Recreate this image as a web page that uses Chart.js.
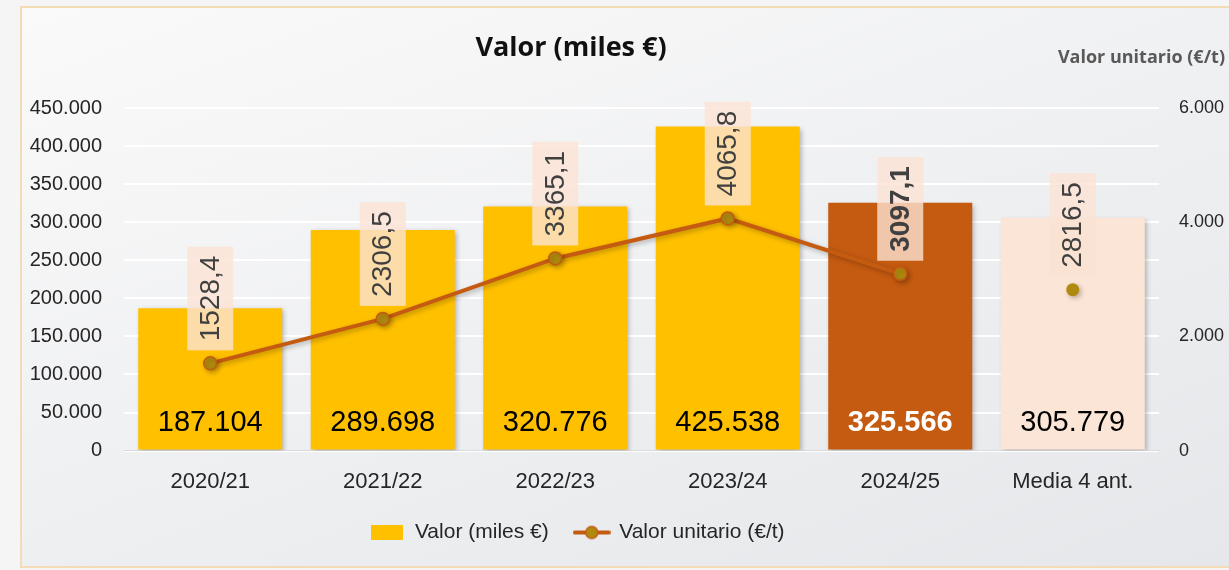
<!DOCTYPE html>
<html lang="es">
<head>
<meta charset="UTF-8">
<title>Valor (miles €)</title>
<script src="https://cdn.jsdelivr.net/npm/chart.js"></script>
<style>
    body { margin: 0; width: 1229px; height: 570px; overflow: hidden; background: #f5f5f5; position: relative; }
    .marco {
        position: absolute; left: 20px; top: 6px; width: 1220px; height: 558px;
        border: 2px solid #f2dbb5;
        background: linear-gradient(160deg, #fafafa 0%, #eeeff1 55%, #e6e7ea 100%);
    }
    #grafico { position: absolute; left: 0; top: 0; }
</style>
</head>
<body>
<div class="marco"></div>
<canvas id="grafico" width="1229" height="570"></canvas>

<script>
// datos
const campanas = ['2020/21', '2021/22', '2022/23', '2023/24', '2024/25', 'Media 4 ant.'];
const valorMiles = [187104, 289698, 320776, 425538, 325566, 305779];
const valorUnitario = [1528.4, 2306.5, 3365.1, 4065.8, 3097.1, 2816.5];
const ticksIzq = [0, 50000, 100000, 150000, 200000, 250000, 300000, 350000, 400000, 450000];
const ticksDer = [0, 2000, 4000, 6000];

const AMARILLO = '#FFC000';
const NARANJA = '#C55A11';
const MELOCOTON = '#FBE5D6';
const PUNTO = '#B08A0E';

function fmt(n) {
    return String(Math.round(n)).replace(/\B(?=(\d{3})+(?!\d))/g, '.');
}

// iconos de la leyenda
const iconoBarra = document.createElement('canvas');
iconoBarra.width = 32; iconoBarra.height = 15;
iconoBarra.getContext('2d').fillStyle = AMARILLO;
iconoBarra.getContext('2d').fillRect(0, 0, 32, 15);

const iconoLinea = document.createElement('canvas');
iconoLinea.width = 38; iconoLinea.height = 16;
(function () {
    const c = iconoLinea.getContext('2d');
    c.strokeStyle = NARANJA; c.lineWidth = 4; c.lineCap = 'round';
    c.beginPath(); c.moveTo(2, 8); c.lineTo(36, 8); c.stroke();
    c.beginPath(); c.arc(19, 8, 6, 0, Math.PI * 2);
    c.fillStyle = PUNTO; c.fill();
    c.lineWidth = 1.5; c.strokeStyle = NARANJA; c.stroke();
})();
const iconos = [iconoBarra, iconoLinea];

// sombras de barras y linea
const sombras = {
    id: 'sombras',
    beforeDatasetDraw(chart) {
        const ctx = chart.ctx;
        ctx.save();
        ctx.shadowColor = 'rgba(0,0,0,0.28)';
        ctx.shadowBlur = 5;
        ctx.shadowOffsetX = 2;
        ctx.shadowOffsetY = 2;
    },
    afterDatasetDraw(chart) {
        chart.ctx.restore();
    }
};

// la leyenda va centrada bajo el titulo, no en el lienzo
const moverLeyenda = {
    id: 'moverLeyenda',
    afterLayout(chart) {
        chart.legend.left -= 37;
        chart.legend.right -= 37;
    }
};

// titulos y etiquetas
const etiquetas = {
    id: 'etiquetas',
    afterDatasetsDraw(chart) {
        const ctx = chart.ctx;
        const barras = chart.getDatasetMeta(0).data;
        const puntos = chart.getDatasetMeta(1).data;
        const base = chart.scales.y.getPixelForValue(0);

        ctx.save();
        ctx.textAlign = 'center';
        ctx.textBaseline = 'middle';

        barras.forEach((b, i) => {
            ctx.font = (i === 4 ? 'bold ' : '') + '29px "Liberation Sans", Arial, sans-serif';
            ctx.fillStyle = i === 4 ? '#ffffff' : '#000000';
            ctx.fillText(fmt(valorMiles[i]), b.x, base - 28);
        });

        puntos.forEach((p, i) => {
            const txt = valorUnitario[i].toFixed(1).replace('.', ',');
            ctx.font = (i === 4 ? 'bold ' : '') + '28px "Liberation Sans", Arial, sans-serif';
            const alto = ctx.measureText(txt).width + 18;
            const ancho = 46;
            const abajo = p.y - 13;
            ctx.fillStyle = 'rgba(251, 226, 211, 0.8)';
            ctx.fillRect(p.x - ancho / 2, abajo - alto, ancho, alto);
            ctx.save();
            ctx.translate(p.x + 1, abajo - alto / 2);
            ctx.rotate(-Math.PI / 2);
            ctx.fillStyle = '#404040';
            ctx.fillText(txt, 0, 0);
            ctx.restore();
        });

        ctx.fillStyle = '#111111';
        ctx.font = 'bold 27px "Open Sans", sans-serif';
        ctx.fillText('Valor (miles €)', 571, 48);

        ctx.textAlign = 'right';
        ctx.fillStyle = '#595959';
        ctx.font = 'bold 18px "Open Sans", sans-serif';
        ctx.fillText('Valor unitario (€/t)', 1225, 58);
        ctx.restore();
    }
};

const grafico = new Chart(document.getElementById('grafico'), {
    data: {
        labels: campanas,
        datasets: [
            {
                type: 'bar',
                label: 'Valor (miles €)',
                data: valorMiles,
                yAxisID: 'y',
                order: 2,
                backgroundColor: [AMARILLO, AMARILLO, AMARILLO, AMARILLO, NARANJA, MELOCOTON],
                borderWidth: 0,
                categoryPercentage: 1,
                barPercentage: 0.835
            },
            {
                type: 'line',
                label: 'Valor unitario (€/t)',
                data: valorUnitario,
                yAxisID: 'y1',
                order: 1,
                borderColor: NARANJA,
                borderWidth: 4,
                tension: 0,
                fill: false,
                pointRadius: 6.5,
                pointBackgroundColor: PUNTO,
                pointBorderColor: [NARANJA, NARANJA, NARANJA, NARANJA, NARANJA, 'rgba(0,0,0,0)'],
                pointBorderWidth: 1.5,
                segment: {
                    borderColor: c => c.p1DataIndex === 5 ? 'rgba(0,0,0,0)' : NARANJA
                }
            }
        ]
    },
    plugins: [sombras, moverLeyenda, etiquetas],
    options: {
        responsive: false,
        animation: false,
        layout: { padding: { top: 108, bottom: 17, left: 0, right: 0 } },
        plugins: {
            tooltip: { enabled: false },
            title: { display: false },
            legend: {
                position: 'bottom',
                labels: {
                    usePointStyle: true,
                    pointStyleWidth: 34,
                    boxHeight: 16,
                    padding: 26,
                    color: '#262626',
                    font: { family: '"Liberation Sans", Arial, sans-serif', size: 21 },
                    generateLabels(chart) {
                        const items = Chart.defaults.plugins.legend.labels.generateLabels(chart);
                        items.forEach(it => { it.pointStyle = iconos[it.datasetIndex]; });
                        return items.sort((a, b) => a.datasetIndex - b.datasetIndex);
                    }
                }
            }
        },
        scales: {
            x: {
                grid: { display: false },
                border: { display: true, color: '#d9d9d9', width: 1 },
                afterFit(s) { s.height = s.height - 9; },
                ticks: {
                    color: '#262626',
                    padding: 10,
                    font: { family: '"Liberation Sans", Arial, sans-serif', size: 22 }
                }
            },
            y: {
                position: 'left',
                min: 0,
                max: 450000,
                afterFit(s) { s.width = 124; },
                afterBuildTicks(s) { s.ticks = ticksIzq.map(v => ({ value: v })); },
                grid: { color: '#ffffff', lineWidth: 2, drawTicks: false },
                border: { display: false },
                ticks: {
                    color: '#262626',
                    padding: 22,
                    font: { family: '"Liberation Sans", Arial, sans-serif', size: 20 },
                    callback: v => fmt(v)
                }
            },
            y1: {
                position: 'right',
                min: 0,
                max: 6000,
                afterFit(s) { s.width = 70; },
                afterBuildTicks(s) { s.ticks = ticksDer.map(v => ({ value: v })); },
                grid: { display: false, drawTicks: false },
                border: { display: false },
                ticks: {
                    color: '#262626',
                    padding: 20,
                    font: { family: '"Liberation Sans", Arial, sans-serif', size: 18 },
                    callback: v => fmt(v)
                }
            }
        }
    }
});
</script>
</body>
</html>
